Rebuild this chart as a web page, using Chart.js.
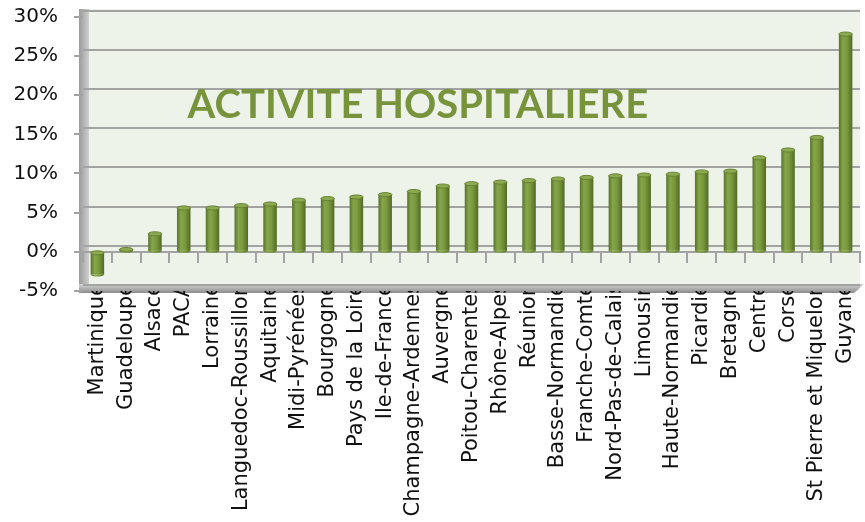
<!DOCTYPE html>
<html>
<head>
<meta charset="utf-8">
<script src="https://cdn.jsdelivr.net/npm/chart.js@4.4.0/dist/chart.umd.min.js"></script>
<style>
  html, body { margin: 0; padding: 0; background: #fff; }
  #wrap { width: 865px; height: 522px; }
</style>
</head>
<body>
<div id="wrap"><canvas id="activityChart"></canvas></div>
<script>
// Regions, sorted by growth of hospital activity
const regions = [
  'Martinique', 'Guadeloupe', 'Alsace', 'PACA', 'Lorraine', 'Languedoc-Roussillon',
  'Aquitaine', 'Midi-Pyrénées', 'Bourgogne', 'Pays de la Loire', 'Ile-de-France',
  'Champagne-Ardennes', 'Auvergne', 'Poitou-Charentes', 'Rhône-Alpes', 'Réunion',
  'Basse-Normandie', 'Franche-Comté', 'Nord-Pas-de-Calais', 'Limousin',
  'Haute-Normandie', 'Picardie', 'Bretagne', 'Centre', 'Corse',
  'St Pierre et Miquelon', 'Guyane'
];
const growth = [
  -2.9, 0.3, 2.3, 5.6, 5.6, 5.9,
  6.1, 6.6, 6.8, 7.0, 7.3,
  7.7, 8.4, 8.7, 8.9, 9.1,
  9.3, 9.5, 9.7, 9.8,
  9.9, 10.2, 10.3, 12.0, 13.0,
  14.6, 27.8
];
const yTicks = [-5, 0, 5, 10, 15, 20, 25, 30];
const chartTitle = 'ACTIVITE HOSPITALIERE';

const green = '#77933c';
const gridGrey = '#a3a3a3';
const barPct = 0.47;

// horizontal shading so each bar reads like a cylinder
function cylinderFill(context) {
  const chart = context.chart;
  const xs = chart.scales.x;
  if (!xs || !xs.ticks.length) return green;
  const cx = xs.getPixelForValue(context.dataIndex);
  const half = (xs.width / xs.ticks.length) * barPct / 2;
  const g = chart.ctx.createLinearGradient(cx - half, 0, cx + half, 0);
  g.addColorStop(0, '#58732b');
  g.addColorStop(0.3, '#86a64a');
  g.addColorStop(0.6, '#7a983d');
  g.addColorStop(1, '#506a25');
  return g;
}

// fixed 5% steps, no extra tick at the scale ends
const roundTicks = scale => {
  scale.ticks = yTicks.map(v => ({ value: v }));
};

// back wall, left side panel and floor behind the bars
const wallPlugin = {
  id: 'wall',
  beforeDraw(chart) {
    const { ctx, chartArea: a } = chart;
    ctx.save();
    ctx.fillStyle = '#eef3ea';
    ctx.fillRect(a.left, a.top, a.right - a.left, a.bottom - a.top);

    const side = ctx.createLinearGradient(a.left - 4, 0, a.left + 6, 0);
    side.addColorStop(0, '#9a9a9a');
    side.addColorStop(1, '#cfcfcf');
    ctx.fillStyle = side;
    ctx.fillRect(a.left - 4, a.top, 10, a.bottom - a.top);

    const floor = ctx.createLinearGradient(0, a.bottom - 7, 0, a.bottom + 2);
    floor.addColorStop(0, '#d4d4d4');
    floor.addColorStop(1, '#8c8c8c');
    ctx.fillStyle = floor;
    ctx.beginPath();
    ctx.moveTo(a.left - 4, a.bottom - 7);
    ctx.lineTo(a.right + 4, a.bottom - 7);
    ctx.lineTo(a.right - 6, a.bottom + 2);
    ctx.lineTo(a.left - 4, a.bottom + 2);
    ctx.closePath();
    ctx.fill();
    ctx.restore();
  }
};

// title written on the wall
const wallTitle = {
  id: 'wallTitle',
  beforeDatasetsDraw(chart) {
    const { ctx, chartArea: a } = chart;
    ctx.save();
    ctx.font = 'bold 40px Lato';
    ctx.fillStyle = green;
    ctx.textAlign = 'center';
    ctx.textBaseline = 'alphabetic';
    ctx.fillText(chartTitle, a.left + (a.right - a.left) * 0.431, a.top + (a.bottom - a.top) * 0.387);
    ctx.restore();
  }
};

// elliptical ends on the bars
const cylinderCaps = {
  id: 'cylinderCaps',
  afterDatasetsDraw(chart) {
    const ctx = chart.ctx;
    chart.getDatasetMeta(0).data.forEach(bar => {
      const top = Math.min(bar.y, bar.base);
      const bottom = Math.max(bar.y, bar.base);
      const rx = bar.width / 2;
      const ry = rx * 0.3;
      ctx.save();
      ctx.fillStyle = bar.options.backgroundColor;
      ctx.beginPath();
      ctx.ellipse(bar.x, bottom, rx, ry, 0, 0, Math.PI);
      ctx.fill();
      ctx.fillStyle = '#8caa51';
      ctx.strokeStyle = '#66822f';
      ctx.lineWidth = 1;
      ctx.beginPath();
      ctx.ellipse(bar.x, top, rx, ry, 0, 0, Math.PI * 2);
      ctx.fill();
      ctx.stroke();
      ctx.restore();
    });
  }
};

new Chart(document.getElementById('activityChart'), {
  type: 'bar',
  data: {
    labels: regions,
    datasets: [{
      data: growth,
      backgroundColor: cylinderFill,
      borderWidth: 0,
      barPercentage: barPct,
      categoryPercentage: 1
    }]
  },
  options: {
    responsive: true,
    maintainAspectRatio: false,
    animation: false,
    layout: { padding: { top: 9, right: 5, left: 0, bottom: 0 } },
    plugins: {
      legend: { display: false },
      tooltip: { enabled: false }
    },
    scales: {
      x: {
        type: 'category',
        position: 'bottom',
        grid: { display: false, drawTicks: false },
        border: { display: false },
        ticks: {
          autoSkip: false,
          maxRotation: 90,
          minRotation: 90,
          padding: -8,
          color: '#111',
          font: { family: 'DejaVu Sans', size: 21 }
        },
        afterFit: scale => {
          scale.height = 231;
          scale.paddingLeft = 0;
          scale.paddingRight = 0;
        }
      },
      // axis line with tick marks along the zero level
      xBase: {
        type: 'category',
        position: { y: 0 },
        grid: { display: true, drawOnChartArea: false, drawTicks: true, tickLength: 10, offset: true, color: gridGrey, lineWidth: 2 },
        border: { display: true, color: gridGrey, width: 2 },
        ticks: { display: false }
      },
      y: {
        type: 'linear',
        position: 'left',
        min: -5,
        max: 31,
        ticks: {
          padding: 16,
          color: '#111',
          font: { family: 'DejaVu Sans', size: 20 },
          callback: v => v + '%'
        },
        grid: { drawOnChartArea: false, drawTicks: true, tickLength: 9, color: gridGrey, lineWidth: 2 },
        border: { display: false },
        afterBuildTicks: roundTicks,
        afterFit: scale => {
          scale.width = 83;
          scale.paddingTop = 0;
          scale.paddingBottom = 0;
        }
      },
      // gridlines on the back wall, set a little higher than the front axis
      yWall: {
        type: 'linear',
        position: 'right',
        min: -5.77,
        max: 30.23,
        ticks: { display: false },
        grid: { drawOnChartArea: true, drawTicks: false, color: gridGrey, lineWidth: 2 },
        border: { display: false },
        afterBuildTicks: roundTicks,
        afterFit: scale => {
          scale.width = 0;
          scale.paddingTop = 0;
          scale.paddingBottom = 0;
        }
      }
    }
  },
  plugins: [wallPlugin, wallTitle, cylinderCaps]
});
</script>
</body>
</html>
